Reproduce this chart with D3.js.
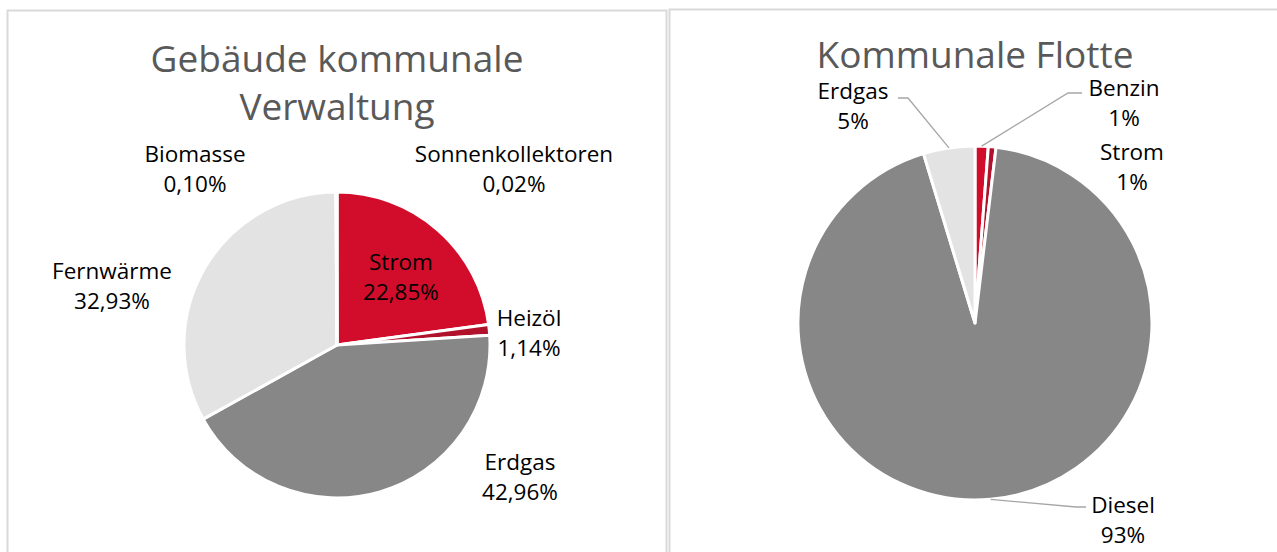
<!DOCTYPE html>
<html>
<head>
<meta charset="utf-8">
<script src="https://cdn.jsdelivr.net/npm/d3@7"></script>
<style>
  body { margin: 0; background: #fff; }
  svg { display: block; font-family: "Open Sans", "Noto Sans", sans-serif; }
</style>
</head>
<body>
<div id="chart"></div>
<script>
// Gebäude kommunale Verwaltung
const buildingCats = ['Strom', 'Heizöl', 'Erdgas', 'Fernwärme', 'Biomasse', 'Sonnenkollektoren'];
const buildingVals = [22.85, 1.14, 42.96, 32.93, 0.10, 0.02];

// Kommunale Flotte
const fleetCats = ['Benzin', 'Strom', 'Diesel', 'Erdgas'];
const fleetVals = [1.2, 0.7, 93.4, 4.7];

const colors = ['#d20d2b', '#b0112b', '#878787', '#e3e3e3', '#6e6e6e', '#9c1a2c'];

const de = d3.formatLocale({ decimal: ',', thousands: '.', grouping: [3], currency: ['', ' €'] });

const width = 1277, height = 552;
const svg = d3.select('#chart').append('svg')
  .attr('width', width)
  .attr('height', height);

// panel frames
svg.append('rect')
  .attr('x', 7.5).attr('y', 10.5).attr('width', 659).attr('height', 600)
  .attr('fill', 'none').attr('stroke', '#d9d9d9').attr('stroke-width', 2);
svg.append('rect')
  .attr('x', 669.5).attr('y', 9.5).attr('width', 700).attr('height', 600)
  .attr('fill', 'none').attr('stroke', '#d9d9d9').attr('stroke-width', 2);

function drawPie(cfg) {
  const g = svg.append('g').attr('transform', `translate(${cfg.cx},${cfg.cy})`);
  const data = cfg.cats.map((c, i) => ({ name: c, value: cfg.vals[i], color: colors[i] }));
  const pie = d3.pie().value(d => d.value).sort(null);
  const arcs = pie(data);
  const arc = d3.arc().innerRadius(0).outerRadius(cfg.r);
  const rim = d3.arc().innerRadius(cfg.r).outerRadius(cfg.r);

  g.selectAll('path.slice')
    .data(arcs)
    .join('path')
    .attr('class', 'slice')
    .attr('d', arc)
    .attr('fill', d => d.data.color)
    .attr('stroke', '#fff')
    .attr('stroke-width', 3)
    .attr('stroke-linejoin', 'round');

  // leader lines
  arcs.forEach(d => {
    const lead = cfg.leaders[d.data.name];
    if (!lead) return;
    const p = rim.centroid(d);
    g.append('polyline')
      .attr('points', [p, lead[0], lead[1]].map(q => q.join(',')).join(' '))
      .attr('fill', 'none')
      .attr('stroke', '#a6a6a6')
      .attr('stroke-width', 1.3);
  });

  // labels
  arcs.forEach(d => {
    const pos = cfg.labels[d.data.name];
    const t = g.append('text')
      .attr('text-anchor', 'middle')
      .attr('font-size', 22.5)
      .attr('fill', '#000');
    t.append('tspan').attr('x', pos[0]).attr('y', pos[1] - 8).text(d.data.name);
    t.append('tspan').attr('x', pos[0]).attr('y', pos[1] + 22).text(cfg.fmt(d.data.value / 100));
  });

  // title
  cfg.title.forEach((line, i) => {
    svg.append('text')
      .attr('x', cfg.cx)
      .attr('y', cfg.titleY + i * 48)
      .attr('text-anchor', 'middle')
      .attr('font-size', 37)
      .attr('fill', '#595959')
      .text(line);
  });
}

drawPie({
  cats: buildingCats, vals: buildingVals,
  cx: 337, cy: 345, r: 153,
  title: ['Gebäude kommunale', 'Verwaltung'], titleY: 72,
  fmt: de.format('.2%'),
  labels: {
    'Strom': [64, -67], 'Heizöl': [192, -11], 'Erdgas': [183, 133],
    'Fernwärme': [-225, -58], 'Biomasse': [-142, -175], 'Sonnenkollektoren': [177, -175]
  },
  leaders: {}
});

drawPie({
  cats: fleetCats, vals: fleetVals,
  cx: 975, cy: 323, r: 177,
  title: ['Kommunale Flotte'], titleY: 68,
  fmt: de.format('.0%'),
  labels: {
    'Benzin': [149, -219], 'Strom': [157, -155], 'Diesel': [148, 198], 'Erdgas': [-122, -216]
  },
  leaders: {
    'Erdgas': [[-67, -225], [-77, -225]],
    'Benzin': [[93, -230], [107, -230]],
    'Diesel': [[101, 184], [111, 184]]
  }
});
</script>
</body>
</html>
